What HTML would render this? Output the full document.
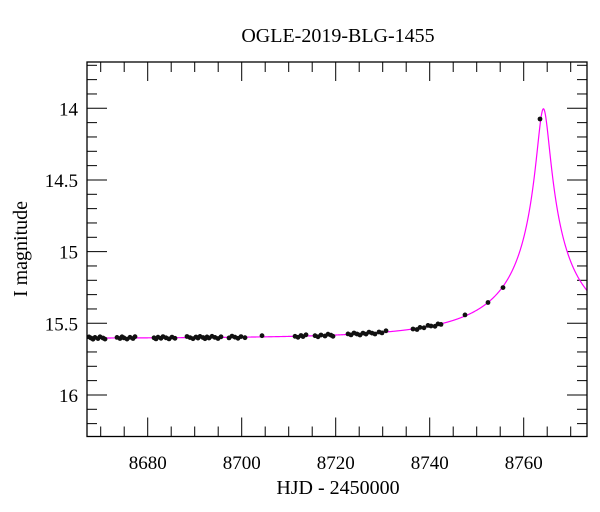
<!DOCTYPE html>
<html><head><meta charset="utf-8"><style>
html,body{margin:0;padding:0;background:#fff;width:600px;height:512px;overflow:hidden}
text{font-family:"Liberation Serif",serif;fill:#000}
</style></head><body>
<svg id="s" width="600" height="512" xmlns="http://www.w3.org/2000/svg">
<text x="338" y="42" font-size="20" text-anchor="middle">OGLE-2019-BLG-1455</text>
<text x="338" y="494" font-size="20" text-anchor="middle">HJD - 2450000</text>
<text transform="translate(27,249) rotate(-90)" font-size="20" text-anchor="middle">I magnitude</text>
<g id="g"></g>
<rect x="87" y="62" width="500" height="374.5" fill="none" stroke="#000" stroke-width="1.3"/>
</svg>
<script>
var L=87,R=587,T=62,B=436.5;
function X(t){return 147.7+(t-8680)*4.7}
function Y(m){return 108.3+(m-14)*143.33}
var g=document.getElementById('g'),h='';
for(var t=8670;t<=8770;t+=5){var x=X(t),len=(t%20==0)?19:10;
h+='<line x1="'+x+'" y1="'+B+'" x2="'+x+'" y2="'+(B-len)+'" stroke="#000" stroke-width="1"/>';
h+='<line x1="'+x+'" y1="'+T+'" x2="'+x+'" y2="'+(T+len)+'" stroke="#000" stroke-width="1"/>';
if(t%20==0)h+='<text x="'+x+'" y="469" font-size="19" text-anchor="middle">'+t+'</text>';}
for(var k=137;k<=162;k++){var m=k/10,y=Y(m);if(y<T||y>B)continue;var maj=(k%5==0),len=maj?20:10;
h+='<line x1="'+L+'" y1="'+y+'" x2="'+(L+len)+'" y2="'+y+'" stroke="#000" stroke-width="1"/>';
h+='<line x1="'+R+'" y1="'+y+'" x2="'+(R-len)+'" y2="'+y+'" stroke="#000" stroke-width="1"/>';
if(maj)h+='<text x="78" y="'+(y+7)+'" font-size="19" text-anchor="end">'+(k%10==0?(k/10):m.toFixed(1))+'</text>';}
function mag(t){var u0=0.044,tE=30,t0=8764.2,fs=0.155,tau=(t-t0)/tE,u=Math.sqrt(u0*u0+tau*tau);
var A=(u*u+2)/(u*Math.sqrt(u*u+4));return 15.605-2.5*Math.log10(fs*A+1-fs);}
var p='';for(var t=8667.1;t<=8773.5;t+=0.05){p+=(p?'L':'M')+X(t).toFixed(2)+','+Y(mag(t)).toFixed(2);}
h+='<path d="'+p+'" fill="none" stroke="#ff00ff" stroke-width="1.2"/>';
var xs=[89,91,93,95,98,100,103,105,117,120,122,124,127,130,133,135,154,156,158,161,163,166,169,172,175,187,190,193,196,198,200,203,205,207,209,212,215,218,221,229,232,235,238,241,245,262,295,298,301,303,306,315,318,321,325,328,331,333,348,351,354,357,360,363,366,369,372,375,379,382,386,413,417,420,424,428,431,435,438,441,465,488,503];
for(var i=0;i<xs.length;i++){var t=8680+(xs[i]-147.7)/4.7,n=((i*37)%5-2)*0.004;
h+='<circle cx="'+xs[i]+'" cy="'+Y(mag(t)+n).toFixed(1)+'" r="2.4" fill="#111"/>';}
h+='<circle cx="540" cy="119" r="2.4" fill="#111"/>';
g.innerHTML=h;
</script>
</body></html>
